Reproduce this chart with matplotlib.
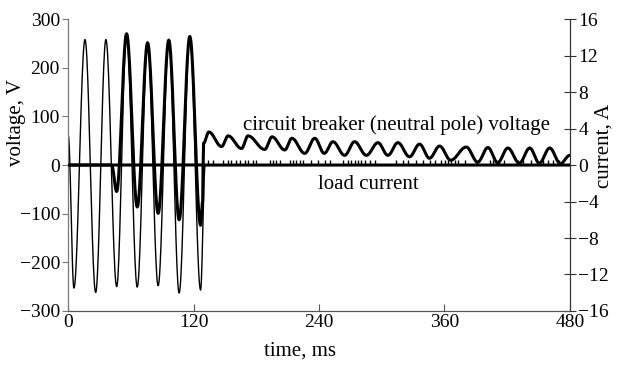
import matplotlib
matplotlib.use("Agg")
import matplotlib.pyplot as plt
import numpy as np

plt.rcParams['font.family'] = ['Liberation Serif', 'DejaVu Serif']
plt.rcParams['font.size'] = 15

# supply voltage (V), extrema read per half cycle
supply_t = [0, 5.4, 16.0, 26.2, 36.0, 46.3, 55.8, 66.0, 75.9, 86.0, 96.2,
            106.1, 116.3, 126.6, 131.0]
supply_v = [60, -253, 258, -262, 258, -250, 268, -251, 253, -248, 258,
            -263, 265, -257, 0]

# load current (A) while the breaker conducts
load_t = [0, 41.5, 46.3, 55.8, 66.0, 75.9, 86.0, 96.2, 106.1, 116.3, 126.6,
          128.6, 129.0, 480]
load_a = [0, 0, -2.9, 14.4, -4.6, 13.4, -5.3, 13.7, -6.0, 14.1, -6.6,
          -4.0, 0, 0]

# small current pulses after opening (A)
spike_t = [133.8, 138.6, 148.2, 153.0, 156.2, 160.9, 164.1, 168.9, 172.1,
           176.8, 180.1, 192.8, 195.9, 199.2, 202.4, 211.9, 215.1, 218.3,
           221.5, 224.6, 232.7, 239.0, 245.4, 250.2, 262.9, 267.7, 270.9,
           274.1, 277.2, 280.5, 283.6, 288.4, 293.2, 313.9, 320.3, 325.0,
           333.1, 339.4, 345.8, 350.6, 357.0, 360.1, 363.3, 366.5, 369.7,
           372.9, 379.3, 390.4, 403.2, 406.3, 409.6, 412.7, 417.5, 430.2,
           435.0, 443.0, 454.1, 458.9, 463.7, 470.1]
spike_a = 0.5

# voltage across the neutral pole of the breaker (V)
cb_t = [0, 129.0, 129.5, 134.5, 146.7, 153.0, 165.8, 172.0, 188.0, 195.0,
        207.2, 214.0, 226.3, 235.9, 245.0, 253.3, 264.5, 274.0, 285.3, 296.4,
        305.9, 315.5, 326.6, 336.2, 345.7, 355.4, 366.0, 380.9, 391.9, 401.6,
        411.0, 420.7, 431.7, 441.7, 450.8, 460.8, 471.0, 480.0]
cb_v = [0, 0, 45, 68, 38, 60, 34, 60, 32, 58,
        31, 55, 24, 55, 24, 48, 20, 48, 20, 46,
        20, 46, 17, 43, 14, 39, 10, 37, 6, 36,
        5, 35, 4, 35, 4, 35, 3, 20]

x_ticks = [0, 120, 240, 360, 480]
v_ticks = [-300, -200, -100, 0, 100, 200, 300]
a_ticks = [-16, -12, -8, -4, 0, 4, 8, 12, 16]


def ac_trace(t, y, n=24):
    # half-cosine swing between successive extrema, like an AC waveform
    xs, ys = [t[0]], [y[0]]
    for t0, t1, y0, y1 in zip(t[:-1], t[1:], y[:-1], y[1:]):
        s = np.linspace(0, 1, n)[1:]
        xs.extend(t0 + (t1 - t0) * s)
        ys.extend(y0 + (y1 - y0) * (1 - np.cos(np.pi * s)) / 2)
    return xs, ys


fig = plt.figure(figsize=(6.18, 3.68), dpi=100)
ax = fig.add_axes([0.1105, 0.155, 0.8115, 0.793])
ax2 = ax.twinx()

ax.plot(*ac_trace(supply_t, supply_v), color='black', lw=1.0, zorder=2)
ax.plot(*ac_trace(cb_t, cb_v), color='black', lw=2.2, zorder=3)
ax2.plot(*ac_trace(load_t, load_a), color='black', lw=2.2, zorder=3)
ax2.vlines(spike_t, 0, spike_a, color='black', lw=1.0)

ax.set_xlim(0, 480)
ax.set_ylim(-300, 300)
ax2.set_ylim(-16, 16)
ax.set_xticks(x_ticks)
ax.set_yticks(v_ticks)
ax2.set_yticks(a_ticks)

for a in (ax, ax2):
    a.spines['top'].set_visible(False)
    a.spines['left'].set_color('#777777')
    a.spines['left'].set_linewidth(0.8)
    a.spines['right'].set_color('#333333')
    a.spines['right'].set_linewidth(0.8)
    a.spines['bottom'].set_color('#555555')
    a.spines['bottom'].set_linestyle((0, (1, 1)))
    a.spines['bottom'].set_linewidth(0.8)

ax.tick_params(axis='y', direction='out', length=4, width=0.8, color='#777777',
               pad=2, labelsize=14)
ax.tick_params(axis='x', direction='in', length=5, width=0.8, color='#555555',
               pad=2, labelsize=14)
ax2.tick_params(axis='y', direction='inout', length=8, width=0.8, color='#333333',
                pad=2, labelsize=14)

ax.set_xlabel('time, ms')
ax.xaxis.set_label_coords(0.462, -0.105)
ax.set_ylabel('voltage, V')
ax.yaxis.set_label_coords(-0.085, 0.645)
ax2.set_ylabel('current, A')
ax2.yaxis.set_label_coords(1.05, 0.565)

ax.text(167, 82, 'circuit breaker (neutral pole) voltage', ha='left', va='center')
ax.text(238.7, -39, 'load current', ha='left', va='center')

fig.savefig('out.png', dpi=100)
